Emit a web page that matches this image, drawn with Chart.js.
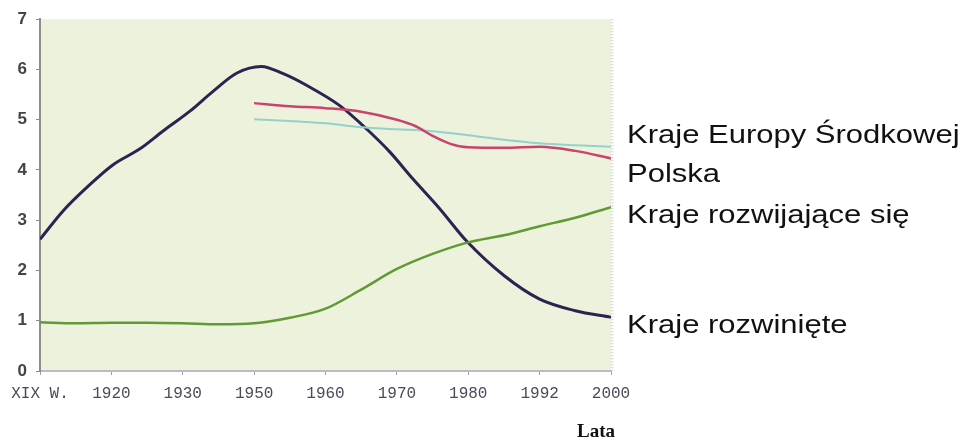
<!DOCTYPE html>
<html>
<head>
<meta charset="utf-8">
<script src="https://cdn.jsdelivr.net/npm/chart.js@4.4.1/dist/chart.umd.min.js"></script>
<style>
  html, body { margin: 0; padding: 0; background: #fff; }
  #wrap { width: 965px; height: 440px; position: relative; }
</style>
</head>
<body>
<div id="wrap"><canvas id="chart" width="965" height="440"></canvas></div>
<script>
// tick labels along x (evenly spaced categories)
const years = ["XIX W.", "1920", "1930", "1950", "1960", "1970", "1980", "1992", "2000"];
const xTitle = "Lata";

const rozwinieteX  = [0, 0.32, 0.7, 1.02, 1.4, 1.72, 2.1, 2.42, 2.76, 3.1, 3.4, 3.74, 4.2, 4.58, 4.9, 5.22, 5.6, 5.98, 6.5, 7, 7.5, 8];
const rozwiniete   = [2.62, 3.18, 3.71, 4.1, 4.42, 4.77, 5.17, 5.56, 5.93, 6.06, 5.92, 5.68, 5.28, 4.81, 4.36, 3.83, 3.23, 2.58, 1.9, 1.43, 1.2, 1.07];

const rozwijajaceX = [0, 0.5, 1, 1.5, 2, 2.5, 3, 3.5, 4, 4.5, 5, 5.5, 6, 6.5, 7, 7.5, 8];
const rozwijajace  = [0.97, 0.95, 0.96, 0.96, 0.95, 0.93, 0.95, 1.06, 1.24, 1.62, 2.03, 2.33, 2.56, 2.7, 2.88, 3.05, 3.26];

const polskaX      = [3, 3.5, 4, 4.5, 5, 5.25, 5.5, 5.75, 6, 6.5, 7, 7.5, 8];
const polska       = [5.33, 5.27, 5.23, 5.16, 5.0, 4.88, 4.68, 4.52, 4.45, 4.44, 4.46, 4.38, 4.23];

const europaX      = [3, 4, 4.5, 5, 5.5, 6, 6.5, 7, 7.5, 8];
const europa       = [5.01, 4.93, 4.85, 4.81, 4.77, 4.69, 4.6, 4.53, 4.49, 4.46];

const legendNames = ["Kraje Europy Środkowej", "Polska", "Kraje rozwijające się", "Kraje rozwinięte"];

function pts(xs, ys) {
    return xs.map((x, i) => ({ x: x, y: ys[i] }));
}

const plotBg = {
    id: 'plotBg',
    beforeDraw(chart) {
        const a = chart.chartArea, c = chart.ctx;
        c.save();
        c.fillStyle = '#edf2dc';
        c.fillRect(a.left, a.top, a.right - a.left, a.bottom - a.top);
        // faint scan edge on the right
        c.strokeStyle = '#d4d6d0';
        c.lineWidth = 3;
        c.setLineDash([1, 2]);
        c.beginPath();
        c.moveTo(a.right + 1, a.top);
        c.lineTo(a.right + 1, a.bottom);
        c.stroke();
        c.restore();
    }
};

// series names written to the right of the plot, stretched like the scan
const sideLabels = {
    id: 'sideLabels',
    afterDraw(chart) {
        const c = chart.ctx;
        const ys = [143, 182, 223, 333];
        c.save();
        c.fillStyle = '#111';
        c.font = '25px "Liberation Sans", Arial, sans-serif';
        c.textBaseline = 'alphabetic';
        legendNames.forEach((t, i) => {
            c.save();
            c.translate(627, ys[i]);
            c.scale(1.24, 1);
            c.fillText(t, 0, 0);
            c.restore();
        });
        // axis title under the right end of the x axis
        c.font = 'bold 19px "Liberation Serif", "Times New Roman", serif';
        c.textAlign = 'right';
        c.fillText(xTitle, chart.chartArea.right + 4, 437);
        c.restore();
    }
};

new Chart(document.getElementById('chart'), {
    type: 'line',
    data: {
        datasets: [
            { label: legendNames[1], data: pts(polskaX, polska), borderColor: '#c8446e', borderWidth: 2.5 },
            { label: legendNames[0], data: pts(europaX, europa), borderColor: '#93d2cc', borderWidth: 2 },
            { label: legendNames[2], data: pts(rozwijajaceX, rozwijajace), borderColor: '#5f9a34', borderWidth: 2.5 },
            { label: legendNames[3], data: pts(rozwinieteX, rozwiniete), borderColor: '#2c2350', borderWidth: 3 }
        ]
    },
    options: {
        responsive: false,
        animation: false,
        devicePixelRatio: 1,
        layout: { padding: { left: 0, top: 16, right: 354, bottom: 0 } },
        elements: {
            point: { radius: 0 },
            line: { cubicInterpolationMode: 'monotone', fill: false }
        },
        plugins: {
            legend: { display: false },
            tooltip: { enabled: false }
        },
        scales: {
            x: {
                type: 'linear',
                min: 0,
                max: 8,
                afterFit: (s) => { s.height = 69; },
                ticks: {
                    stepSize: 1,
                    autoSkip: false,
                    maxRotation: 0,
                    padding: 9,
                    color: '#4a4a5a',
                    font: { family: '"Liberation Mono", "Courier New", monospace', size: 16 },
                    callback: (v) => years[v]
                },
                grid: { drawOnChartArea: false, tickLength: 4, color: '#9aa0b0' },
                border: { color: '#b8bcc8', width: 2 }
            },
            y: {
                min: 0,
                max: 7,
                afterFit: (s) => { s.width = 40; },
                ticks: {
                    stepSize: 1,
                    padding: 9,
                    color: '#444',
                    font: { family: '"Liberation Sans", Arial, sans-serif', size: 17, weight: 'bold' }
                },
                grid: { drawOnChartArea: false, tickLength: 4, color: '#888' },
                border: { color: '#8a8f88', width: 2 }
            }
        }
    },
    plugins: [plotBg, sideLabels]
});
</script>
</body>
</html>
